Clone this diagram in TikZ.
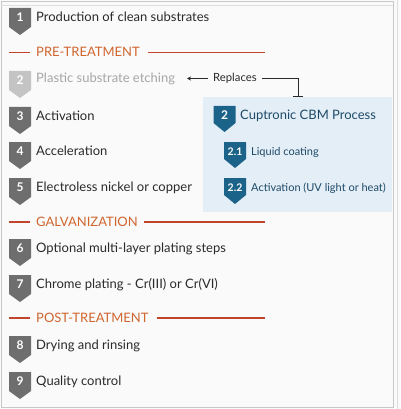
\documentclass[tikz,border=0pt]{standalone}
\usepackage{fontspec}
\setmainfont{Lato}
\usetikzlibrary{arrows.meta}
\definecolor{bgc}{HTML}{FAFAFA}
\definecolor{framec}{HTML}{C8C8C8}
\definecolor{badgegray}{HTML}{6E6E6E}
\definecolor{badgefade}{HTML}{C4C4C4}
\definecolor{badgeblue}{HTML}{1B6388}
\definecolor{boxblue}{HTML}{E4EEF7}
\definecolor{txt}{HTML}{2A2A2A}
\definecolor{fadetxt}{HTML}{A6A6A6}
\definecolor{headtxt}{HTML}{D0652E}
\definecolor{headline}{HTML}{C0452A}
\definecolor{bluetxt}{HTML}{1E4A68}
\tikzset{
  itemtxt/.style={anchor=base west, inner sep=0pt, font=\fontsize{13}{15}\selectfont, text=txt},
  headtext/.style={anchor=base west, inner sep=0pt, font=\fontsize{13}{15}\selectfont, text=headtxt},
  headrule/.style={draw=headline, line width=1.3pt},
  badgenum/.style={inner sep=0pt, text=white, font=\bfseries\fontsize{12}{13}\selectfont},
  subnum/.style={inner sep=0pt, text=white, font=\bfseries\fontsize{10.5}{12}\selectfont},
  subtxt/.style={anchor=base west, inner sep=0pt, font=\fontsize{11}{13}\selectfont, text=bluetxt},
  conn/.style={draw=txt, line width=0.8pt}
}
% name, x centre, y top, colour, number, height of square part, total height, number style
\newcommand\mybadge[8]{%
  \fill[#4] (#2-11,#3) -- (#2+11,#3) -- (#2+11,#3+#6) -- (#2,#3+#7) -- (#2-11,#3+#6) -- cycle;
  \node[#8] (#1) at (#2,#3+9.5) {#5};
}
\begin{document}
\begin{tikzpicture}[x=1pt,y=-1pt]
\useasboundingbox (0,0) rectangle (400,409);
\fill[bgc] (0,0) rectangle (400,409);
\draw[framec, line width=0.8pt] (1,1) rectangle (393,407.5);
\draw[framec!60, line width=0.6pt] (397,0) -- (397,409);
\draw[framec!60, line width=0.6pt] (1,5.5) -- (393,5.5);

% item 1
\mybadge{b1}{20}{8}{badgegray}{1}{19}{27}{badgenum}
\node[itemtxt] (t1) at (36,21.5) {Production of clean substrates};

% PRE-TREATMENT
\node[headtext] (h1) at (36,57) {PRE-TREATMENT};
\coordinate (h1a) at (9,52.5);
\coordinate (h1b) at (265,52.5);
\draw[headrule] (h1a) -- ([xshift=-6pt]h1.west |- h1a);
\draw[headrule] ([xshift=8pt]h1.east |- h1b) -- (h1b);

% item 2 faded
\mybadge{b2}{20}{71}{badgefade}{2}{19}{27}{badgenum}
\node[itemtxt, text=fadetxt] (t2) at (36,83) {Plastic substrate etching};

% Replaces
\node[inner sep=0pt, anchor=base west, font=\fontsize{11.3}{13}\selectfont, text=txt] (rep) at (213,82) {Replaces};
\coordinate (arrtip) at (187,78.5);
\coordinate (corner) at (298,78.5);
\coordinate (barend) at (298,97);
\draw[conn, -{Stealth[length=4pt,width=4pt]}] ([xshift=-5pt]rep.west |- arrtip) -- (arrtip);
\draw[conn, -{Bar[width=10pt]}] ([xshift=5pt]rep.east |- corner) -- (corner) -- (barend);

% blue box
\fill[boxblue] (203,97) rectangle (392,212);
\mybadge{bb2}{224.5}{106}{badgeblue}{2}{17}{26}{badgenum}
\node[itemtxt, text=bluetxt, font=\fontsize{13}{15}\selectfont] (tb2) at (240,120) {Cuptronic CBM Process};
\mybadge{bb21}{235}{142}{badgeblue}{2.1}{17}{26}{subnum}
\node[subtxt] (tb21) at (251,155) {Liquid coating};
\mybadge{bb22}{235}{178}{badgeblue}{2.2}{17}{26}{subnum}
\node[subtxt] (tb22) at (251,191) {Activation (UV light or heat)};

% items 3-5
\mybadge{b3}{20}{107}{badgegray}{3}{19}{27}{badgenum}
\node[itemtxt] (t3) at (36,120.5) {Activation};
\mybadge{b4}{20}{142}{badgegray}{4}{19}{27}{badgenum}
\node[itemtxt] (t4) at (36,155.5) {Acceleration};
\mybadge{b5}{20}{178}{badgegray}{5}{19}{27}{badgenum}
\node[itemtxt] (t5) at (36,191) {Electroless nickel or copper};

% GALVANIZATION
\node[headtext] (h2) at (36,226.5) {GALVANIZATION};
\coordinate (h2a) at (9,222);
\coordinate (h2b) at (265,222);
\draw[headrule] (h2a) -- ([xshift=-6pt]h2.west |- h2a);
\draw[headrule] ([xshift=6pt]h2.east |- h2b) -- (h2b);

% items 6-7
\mybadge{b6}{20}{239}{badgegray}{6}{19}{27}{badgenum}
\node[itemtxt] (t6) at (36,252.5) {Optional multi-layer plating steps};
\mybadge{b7}{20}{275}{badgegray}{7}{19}{27}{badgenum}
\node[itemtxt] (t7) at (36,288.5) {Chrome plating - Cr(III) or Cr(VI)};

% POST-TREATMENT
\node[headtext] (h3) at (36,322.5) {POST-TREATMENT};
\coordinate (h3a) at (9,318);
\coordinate (h3b) at (265,318);
\draw[headrule] (h3a) -- ([xshift=-6pt]h3.west |- h3a);
\draw[headrule] ([xshift=8pt]h3.east |- h3b) -- (h3b);

% items 8-9
\mybadge{b8}{20}{336}{badgegray}{8}{19}{27}{badgenum}
\node[itemtxt] (t8) at (36,349.5) {Drying and rinsing};
\mybadge{b9}{20}{372}{badgegray}{9}{19}{27}{badgenum}
\node[itemtxt] (t9) at (36,385) {Quality control};
\end{tikzpicture}
\end{document}
